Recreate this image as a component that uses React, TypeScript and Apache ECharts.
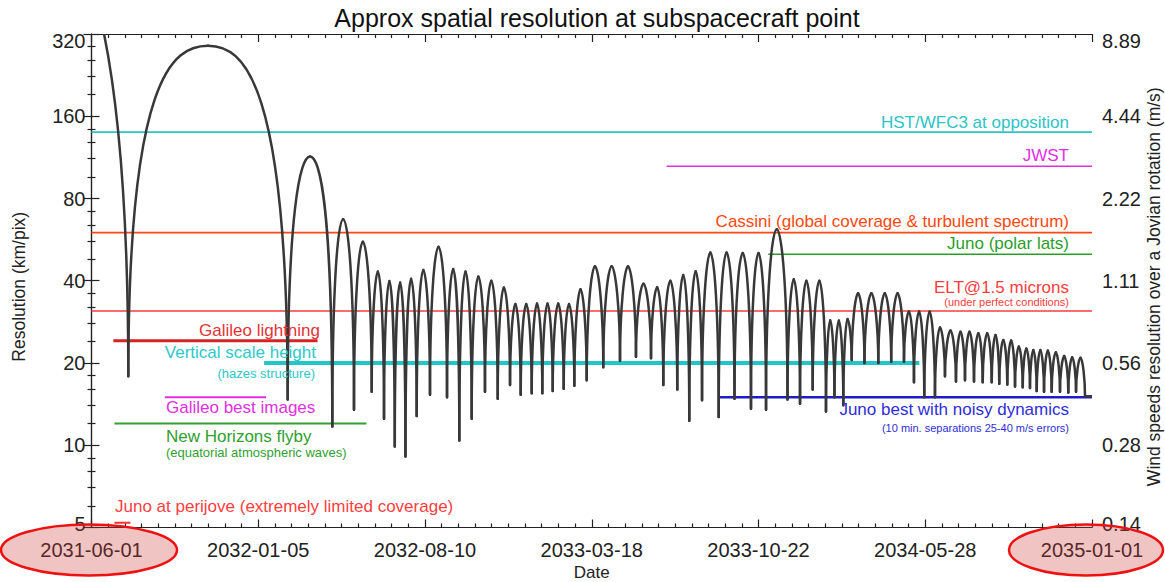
import React, { useEffect, useRef } from "react";
import * as echarts from "echarts";

const FONT = "'Liberation Sans', Arial, Helvetica, sans-serif";

// ---- axes ----
const xTickLabels = ["2031-06-01", "2032-01-05", "2032-08-10", "2033-03-18", "2033-10-22", "2034-05-28", "2035-01-01"];
const xSpanDays = 1310; // days from 2031-06-01 to 2035-01-01
const yTickValues = [5, 10, 20, 40, 80, 160, 320];
const yMinorValues = [6, 7, 8, 9, 12, 14, 16, 18, 24, 28, 32, 36, 48, 56, 64, 72, 96, 112, 128, 144, 192, 224, 256, 288];
const kmPerPixPerWind = 36; // right axis = left axis / 36

// ---- resolution curve (days since 2031-06-01, km/pix) ----
const leadInPeakDay = -120;
const leadInPeakValue = 1100;
const dipDays = [48.2, 256.9, 315.3, 343.7, 366.9, 383.0, 397.1, 411.1, 425.8, 443.2, 465.5, 481.6, 497.8, 515.2, 531.9, 548.0, 562.0, 576.4, 590.3, 603.9, 618.3, 632.2, 648.4, 670.1, 692.0, 712.9, 732.6, 748.7, 767.0, 782.7, 799.4, 821.2, 841.9, 863.5, 883.2, 911.3, 927.7, 944.3, 961.7, 972.8, 984.4, 995.4, 1012.1, 1030.2, 1047.1, 1063.8, 1076.9, 1090.4, 1104.4, 1117.5, 1131.9, 1143.7, 1155.5, 1166.9, 1178.7, 1188.6, 1199.1, 1209.2, 1219.3, 1228.8, 1237.6, 1247.2, 1257.2, 1268.1, 1279.0, 1289.1, 1300.8];
const dipValues = [17.9, 14.7, 11.7, 13.5, 15.7, 12.5, 9.9, 9.1, 12.8, 15.3, 15.0, 10.4, 12.5, 15.7, 14.8, 16.6, 15.3, 15.5, 15.5, 15.8, 16.1, 16.5, 17.3, 19.3, 20.4, 21.1, 20.8, 16.6, 16.0, 12.3, 14.6, 12.7, 14.8, 13.6, 13.5, 14.7, 14.2, 16.0, 13.3, 15.0, 14.0, 20.5, 20.0, 20.0, 20.2, 20.2, 17.0, 15.0, 15.0, 17.9, 17.1, 17.3, 17.1, 17.0, 17.0, 16.8, 16.7, 16.4, 16.3, 16.2, 15.8, 15.7, 15.7, 15.7, 15.6, 15.7, 15.2];
const peakValues = [290, 114, 67.2, 55.6, 43.2, 39.9, 39.4, 40.7, 43.8, 53.3, 44.2, 43.2, 41.5, 40.0, 37.8, 32.9, 32.9, 33.0, 33.0, 33.0, 32.9, 37.2, 45.2, 45.2, 45.2, 39.0, 37.9, 40.0, 42.0, 43.3, 50.7, 50.7, 50.5, 50.5, 61.8, 40.5, 40.0, 40.0, 28.7, 28.6, 29.0, 36.0, 36.0, 36.0, 36.0, 30.9, 30.9, 30.9, 27.0, 26.3, 26.0, 26.0, 25.7, 25.7, 25.3, 24.3, 24.2, 23.0, 22.6, 22.3, 22.3, 22.2, 21.9, 21.2, 21.0, 20.9];
const tailValue = 15.1;

// ---- reference lines ----
const refLineNames = ["HST/WFC3", "JWST", "Cassini", "Juno polar", "ELT", "Galileo lightning", "Vertical scale height", "Galileo best images", "Juno best", "New Horizons", "Juno perijove"];
const refLineValues = [140, 105, 60, 50, 31, 24.1, 20, 15, 15, 12, 5.2];
const refLineStartDays = [0, 753, 0, 886, 0, 28.5, 226, 96, 822, 30, 30];
const refLineEndDays = [1310, 1310, 1310, 1310, 1310, 296, 1084, 228.5, 1310, 360, 51];

// styles (kept apart from data)
const refLineStyles: Record<string, { color: string; width: number }> = {
  "HST/WFC3": { color: "#2cc4c8", width: 1.6 },
  JWST: { color: "#e22ee2", width: 1.6 },
  Cassini: { color: "#ff4810", width: 1.6 },
  "Juno polar": { color: "#2a9e2a", width: 1.6 },
  ELT: { color: "#ff3c3c", width: 1.6 },
  "Galileo lightning": { color: "#d42424", width: 3 },
  "Vertical scale height": { color: "#22c6c6", width: 4 },
  "Galileo best images": { color: "#e030e0", width: 2 },
  "Juno best": { color: "#1c1cc8", width: 2.5 },
  "New Horizons": { color: "#30a030", width: 2 },
  "Juno perijove": { color: "#ff3030", width: 2 },
};

const annotations = [
  { text: "HST/WFC3 at opposition", x: 1069, y: 122, align: "right", color: "#2cc4c8", size: 17 },
  { text: "JWST", x: 1069, y: 155, align: "right", color: "#e22ee2", size: 17 },
  { text: "Cassini (global coverage & turbulent spectrum)", x: 1069, y: 221, align: "right", color: "#ff4810", size: 17 },
  { text: "Juno (polar lats)", x: 1069, y: 243, align: "right", color: "#2a9e2a", size: 17 },
  { text: "ELT@1.5 microns", x: 1069, y: 287, align: "right", color: "#ff3c3c", size: 17 },
  { text: "(under perfect conditions)", x: 1069, y: 301.5, align: "right", color: "#ff3c3c", size: 11 },
  { text: "Juno best with noisy dynamics", x: 1069, y: 409, align: "right", color: "#2e2ed8", size: 17 },
  { text: "(10 min. separations 25-40 m/s errors)", x: 1069, y: 427.5, align: "right", color: "#2e2ed8", size: 11 },
  { text: "Galileo lightning", x: 320, y: 330, align: "right", color: "#e23434", size: 17 },
  { text: "Vertical scale height", x: 316, y: 352, align: "right", color: "#2cc8cc", size: 17 },
  { text: "(hazes structure)", x: 315, y: 373, align: "right", color: "#2cc8cc", size: 13 },
  { text: "Galileo best images", x: 166, y: 407, align: "left", color: "#e030e0", size: 17 },
  { text: "New Horizons flyby", x: 166, y: 436, align: "left", color: "#30a030", size: 17 },
  { text: "(equatorial atmospheric waves)", x: 166, y: 452.5, align: "left", color: "#30a030", size: 13 },
  { text: "Juno at perijove (extremely limited coverage)", x: 115, y: 506, align: "left", color: "#ff4040", size: 17 },
];

const CURVE_COLOR = "#383838";
const AXIS_COLOR = "#222";
const TICK_FONT = 20;

function shapeA(ratio: number) {
  return Math.max(0.45, Math.min(0.9, 0.4 + 0.125 * Math.log2(Math.max(ratio, 1))));
}
const SHAPE_B = 0.45;

const edgeRich = {
  top: { padding: [14, 0, 0, 0], fontFamily: FONT, fontSize: TICK_FONT, color: AXIS_COLOR },
  bot: { padding: [0, 0, 8, 0], fontFamily: FONT, fontSize: TICK_FONT, color: AXIS_COLOR },
};
function edgeLabel(v: number, text: string) {
  const r = Math.round(v);
  if (r === yTickValues[yTickValues.length - 1]) return "{top|" + text + "}";
  if (r === yTickValues[0]) return "{bot|" + text + "}";
  return text;
}

export default function App() {
  const ref = useRef<HTMLDivElement>(null);
  useEffect(() => {
    document.body.style.margin = "0";
    if (!ref.current) return;
    const chart = echarts.init(ref.current, undefined, { renderer: "svg" });

    // arch items: [startDay, endDay, startValue, peakValue, endValue]
    const arches: number[][] = [];
    arches.push([2 * leadInPeakDay - dipDays[0], dipDays[0], dipValues[0], leadInPeakValue, dipValues[0]]);
    for (let i = 0; i < peakValues.length; i++) {
      arches.push([dipDays[i], dipDays[i + 1], dipValues[i], peakValues[i], dipValues[i + 1]]);
    }
    const lastDay = dipDays[dipDays.length - 1];

    const majorX = xTickLabels.map((_, i) => (i * xSpanDays) / (xTickLabels.length - 1));
    const minorX: number[] = [];
    for (let i = 0; i <= 60; i++) if (i % 10 !== 0) minorX.push((i * xSpanDays) / 60);

    const baseX = { type: "value", min: 0, max: xSpanDays, splitLine: { show: false } };
    const baseY = { type: "log", logBase: 2, min: 5, max: 320, splitLine: { show: false } };
    const lineSt = { color: AXIS_COLOR, width: 1.2 };

    const option: any = {
      animation: false,
      backgroundColor: "#fff",
      title: {
        text: "Approx spatial resolution at subspacecraft point",
        left: 592,
        top: 0,
        textAlign: "center",
        textStyle: { fontFamily: FONT, fontSize: 25, fontWeight: "normal", color: "#111" },
      },
      grid: { left: 91.5, right: 73, top: 34, bottom: 54.5, containLabel: false, outerBoundsMode: "none" },
      xAxis: [
        {
          ...baseX,
          position: "bottom",
          name: "Date",
          nameLocation: "middle",
          nameGap: 35,
          nameTextStyle: { fontFamily: FONT, fontSize: 17, color: AXIS_COLOR },
          axisLine: { show: true, lineStyle: lineSt },
          axisTick: { show: true, inside: true, length: 8, customValues: majorX, lineStyle: lineSt },
          axisLabel: {
            customValues: majorX,
            margin: 12,
            fontFamily: FONT,
            fontSize: TICK_FONT,
            color: AXIS_COLOR,
            formatter: (v: number) => xTickLabels[Math.round((v / xSpanDays) * (xTickLabels.length - 1))],
          },
        },
        {
          ...baseX,
          position: "bottom",
          axisLine: { show: false },
          axisTick: { show: true, inside: true, length: 4, customValues: minorX, lineStyle: lineSt },
          axisLabel: { show: false },
        },
        {
          ...baseX,
          position: "top",
          axisLine: { show: true, lineStyle: lineSt },
          axisTick: { show: true, inside: true, length: 8, customValues: majorX, lineStyle: lineSt },
          axisLabel: { show: false },
        },
        {
          ...baseX,
          position: "top",
          axisLine: { show: false },
          axisTick: { show: true, inside: true, length: 4, customValues: minorX, lineStyle: lineSt },
          axisLabel: { show: false },
        },
      ],
      yAxis: [
        {
          ...baseY,
          position: "left",
          name: "Resolution (km/pix)",
          nameLocation: "middle",
          nameRotate: 90,
          nameGap: 64,
          nameTextStyle: { fontFamily: FONT, fontSize: 17.5, color: AXIS_COLOR, padding: [0, 12, 0, 0] },
          axisLine: { show: true, lineStyle: lineSt },
          axisTick: { show: true, inside: true, length: 8, customValues: yTickValues, lineStyle: lineSt },
          axisLabel: {
            customValues: yTickValues,
            margin: 6,
            fontFamily: FONT,
            fontSize: TICK_FONT,
            color: AXIS_COLOR,
            rich: edgeRich,
            formatter: (v: number) => edgeLabel(v, String(Math.round(v))),
          },
        },
        {
          ...baseY,
          position: "left",
          axisLine: { show: false },
          axisTick: { show: true, inside: true, length: 4, customValues: yMinorValues, lineStyle: lineSt },
          axisLabel: { show: false },
        },
        {
          ...baseY,
          position: "right",
          name: "Wind speeds resolution over a Jovian rotation (m/s)",
          nameLocation: "middle",
          nameRotate: 90,
          nameGap: 53,
          nameMoveOverlap: false,
          nameTextStyle: { fontFamily: FONT, fontSize: 17.5, color: AXIS_COLOR, padding: [0, 12, 0, 0] },
          axisLine: { show: true, lineStyle: lineSt },
          axisTick: { show: true, inside: true, length: 8, customValues: yTickValues, lineStyle: lineSt },
          axisLabel: {
            customValues: yTickValues,
            margin: 10,
            fontFamily: FONT,
            fontSize: TICK_FONT,
            color: AXIS_COLOR,
            rich: edgeRich,
            formatter: (v: number) => edgeLabel(v, (v / kmPerPixPerWind).toFixed(2)),
          },
        },
        {
          ...baseY,
          position: "right",
          axisLine: { show: false },
          axisTick: { show: true, inside: true, length: 4, customValues: yMinorValues, lineStyle: lineSt },
          axisLabel: { show: false },
        },
      ],
      series: [
        ...refLineNames.map((name, i) => ({
          type: "line",
          name,
          xAxisIndex: 0,
          yAxisIndex: 0,
          silent: true,
          symbol: "none",
          z: 2,
          lineStyle: { color: refLineStyles[name].color, width: refLineStyles[name].width },
          data: [
            [refLineStartDays[i], refLineValues[i]],
            [refLineEndDays[i], refLineValues[i]],
          ],
        })),
        {
          type: "custom",
          name: "resolution",
          xAxisIndex: 0,
          yAxisIndex: 0,
          clip: true,
          silent: true,
          z: 4,
          encode: { x: [0, 1], y: [2, 3, 4] },
          data: arches,
          renderItem: (_params: any, api: any) => {
            const d0 = api.value(0), d1 = api.value(1);
            const v0 = api.value(2), vp = api.value(3), v1 = api.value(4);
            const p0 = api.coord([d0, v0]);
            const p1 = api.coord([d1, v1]);
            const pk = api.coord([(d0 + d1) / 2, vp]);
            const aL = shapeA(vp / v0);
            const aR = shapeA(vp / v1);
            const wL = pk[0] - p0[0];
            const wR = p1[0] - pk[0];
            const style = { stroke: CURVE_COLOR, lineWidth: 2.5, fill: "none", lineCap: "round" };
            return {
              type: "group",
              children: [
                {
                  type: "bezierCurve",
                  shape: {
                    x1: p0[0], y1: p0[1],
                    cpx1: p0[0], cpy1: p0[1] + aL * (pk[1] - p0[1]),
                    cpx2: pk[0] - SHAPE_B * wL, cpy2: pk[1],
                    x2: pk[0], y2: pk[1],
                  },
                  style,
                },
                {
                  type: "bezierCurve",
                  shape: {
                    x1: pk[0], y1: pk[1],
                    cpx1: pk[0] + SHAPE_B * wR, cpy1: pk[1],
                    cpx2: p1[0], cpy2: p1[1] + aR * (pk[1] - p1[1]),
                    x2: p1[0], y2: p1[1],
                  },
                  style,
                },
              ],
            };
          },
        },
        {
          type: "line",
          name: "tail",
          xAxisIndex: 0,
          yAxisIndex: 0,
          silent: true,
          symbol: "none",
          z: 4,
          lineStyle: { color: CURVE_COLOR, width: 2.5 },
          data: [
            [lastDay, dipValues[dipValues.length - 1]],
            [lastDay + 2, tailValue],
            [xSpanDays, tailValue],
          ],
        },
      ],
      graphic: [
        ...annotations.map((a) => ({
          type: "text",
          x: a.x,
          y: a.y,
          z: 10,
          silent: true,
          style: {
            text: a.text,
            fill: a.color,
            fontFamily: FONT,
            fontSize: a.size,
            align: a.align,
            verticalAlign: "middle",
          },
        })),
        {
          type: "ellipse",
          z: 100,
          silent: true,
          shape: { cx: 89, cy: 550, rx: 88, ry: 25.5 },
          style: { fill: "rgba(210,60,60,0.3)", stroke: "#ee1111", lineWidth: 2.5 },
        },
        {
          type: "ellipse",
          z: 100,
          silent: true,
          shape: { cx: 1086, cy: 550, rx: 77, ry: 25.5 },
          style: { fill: "rgba(210,60,60,0.3)", stroke: "#ee1111", lineWidth: 2.5 },
        },
      ],
    };

    chart.setOption(option);
    return () => chart.dispose();
  }, []);

  return <div ref={ref} style={{ width: 1165, height: 582 }} />;
}
